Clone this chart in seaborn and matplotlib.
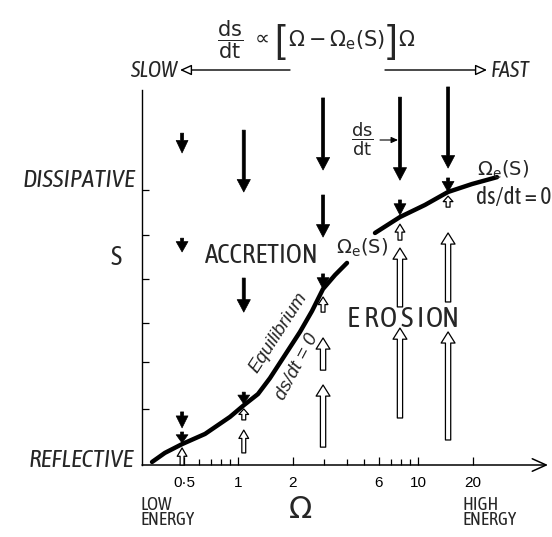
import matplotlib
matplotlib.use("Agg")
import matplotlib.pyplot as plt
from matplotlib import font_manager
from matplotlib.ticker import NullFormatter
import pandas as pd
import seaborn as sns

# ---------------- data ----------------
# equilibrium curve Omega_e(S), drawn in two branches
low_omega = [0.331, 0.390, 0.486, 0.652, 0.897, 1.073, 1.283, 1.496, 1.813, 2.196, 2.561, 2.947, 3.437, 4.007]
low_s = [0.011, 0.044, 0.076, 0.113, 0.175, 0.218, 0.258, 0.316, 0.400, 0.484, 0.560, 0.640, 0.691, 0.735]
high_omega = [5.733, 7.892, 10.87, 14.58, 19.83, 27.30]
high_s = [0.844, 0.902, 0.946, 0.993, 1.022, 1.047]

# columns of ds/dt arrows (Omega values)
col_omega = [0.486, 1.07, 2.95, 7.89, 14.6]
# accretion arrows (pointing down): column index, start S, end S
down_col = [0, 0, 0, 0, 1, 1, 1, 2, 2, 2, 3, 3, 4, 4]
down_start = [1.207, 0.825, 0.193, 0.120, 1.218, 0.680, 0.265, 1.335, 0.982, 0.695, 1.338, 0.964, 1.375, 1.044]
down_end = [1.135, 0.775, 0.135, 0.080, 0.993, 0.556, 0.222, 1.073, 0.829, 0.640, 1.036, 0.909, 1.080, 0.993]
# erosion arrows (pointing up, hollow)
up_col = [0, 1, 1, 2, 2, 2, 3, 3, 3, 4, 4, 4]
up_start = [0.000, 0.044, 0.164, 0.065, 0.345, 0.556, 0.171, 0.575, 0.818, 0.091, 0.593, 0.938]
up_end = [0.062, 0.127, 0.204, 0.291, 0.462, 0.611, 0.498, 0.789, 0.876, 0.484, 0.844, 0.978]

x_major = [0.5, 1, 2, 6, 10, 20]
x_major_labels = ["0·5", "1", "2", "6", "10", "20"]
x_minor = [0.6, 0.7, 0.8, 0.9, 3, 4, 5, 7, 8, 9]
y_ticks = [0.204, 0.375, 0.516, 0.676, 0.836, 1.0]

# ---------------- style ----------------
sns.set_style("white")
plt.rcParams["font.family"] = ["DejaVu Sans"]
plt.rcParams["mathtext.fontset"] = "dejavusans"

_fonts = font_manager.fontManager.ttflist
_names = {f.name for f in _fonts}
NARROW = dict(family=["Liberation Sans", "DejaVu Sans"])
SZ = 0.75
if "Liberation Sans Narrow" in _names:
    NARROW = dict(family=["Liberation Sans Narrow", "DejaVu Sans"])
    SZ = 0.88
else:
    _cond = [f for f in _fonts if "Condensed" in f.name and f.style == "normal"]
    _cond_stretch = [f for f in _fonts if f.stretch in ("condensed", "semi-condensed") and f.style == "normal"]
    if _cond:
        NARROW = dict(family=[_cond[0].name, "DejaVu Sans"])
        SZ = 1.0
    elif _cond_stretch:
        NARROW = dict(family=[_cond_stretch[0].name, "DejaVu Sans"], stretch="condensed")
        SZ = 1.0
REG = dict(family=["Liberation Sans", "DejaVu Sans"])

W, H = 552, 537
fig = plt.figure(figsize=(W / 100, H / 100), dpi=100)
ax = fig.add_axes([142 / W, 1 - 465 / H, 406 / W, 375 / H])


def fp(px, py):
    return (px / W, 1 - py / H)


curve = pd.concat(
    [
        pd.DataFrame({"omega": low_omega, "S": low_s, "branch": "lower"}),
        pd.DataFrame({"omega": high_omega, "S": high_s, "branch": "upper"}),
    ],
    ignore_index=True,
)
sns.lineplot(data=curve, x="omega", y="S", units="branch", estimator=None, sort=False,
             color="black", lw=3.2, ax=ax, legend=False,
             solid_capstyle="round", solid_joinstyle="round")

ax.set_xscale("log")
ax.set_xlim(0.2911, 52.41)
ax.set_ylim(0, 1.364)
ax.set_xlabel("")
ax.set_ylabel("")

for sp in ["top", "right", "bottom"]:
    ax.spines[sp].set_visible(False)
ax.spines["left"].set_color("black")
ax.spines["left"].set_linewidth(1.0)

ax.set_xticks(x_major)
ax.set_xticklabels(x_major_labels)
ax.set_xticks(x_minor, minor=True)
ax.xaxis.set_minor_formatter(NullFormatter())
ax.tick_params(axis="x", which="major", direction="in", length=6, width=0.9, pad=8,
               labelsize=11, bottom=True, color="black", labelcolor="black")
ax.tick_params(axis="x", which="minor", direction="in", length=4, width=0.9, bottom=True, color="black")
for lab in ax.get_xticklabels():
    lab.set_fontproperties(font_manager.FontProperties(size=11, **REG))
ax.set_yticks(y_ticks)
ax.set_yticklabels([])
ax.tick_params(axis="y", which="both", direction="in", length=5, width=0.9, left=True, color="black")
ax.set_yticks([], minor=True)

# x axis with arrow head
ax.annotate("", xy=(1, 0), xytext=(0, 0), xycoords="axes fraction", textcoords="axes fraction",
            arrowprops=dict(arrowstyle="->,head_length=10,head_width=4.5", mutation_scale=1,
                            lw=1.1, color="black", shrinkA=0, shrinkB=0),
            annotation_clip=False)

fig.canvas.draw()
renderer = fig.canvas.get_renderer()


def seg_len_pt(x, s0, s1):
    p0 = ax.transData.transform((x, s0))
    p1 = ax.transData.transform((x, s1))
    return abs(p1[1] - p0[1]) * 72 / fig.dpi


for c, s0, s1 in zip(down_col, down_start, down_end):
    x = col_omega[c]
    L = seg_len_pt(x, s0, s1)
    hl = min(9.0, 0.75 * L)
    hw = 9.5 if L > 20 else 8.5
    ax.annotate("", xy=(x, s1), xytext=(x, s0), xycoords="data", textcoords="data",
                arrowprops=dict(arrowstyle=f"simple,head_length={hl},head_width={hw},tail_width=2.2",
                                mutation_scale=1, fc="black", ec="black", lw=0.5,
                                shrinkA=0, shrinkB=0),
                annotation_clip=False, zorder=4)

for c, s0, s1 in zip(up_col, up_start, up_end):
    x = col_omega[c]
    L = seg_len_pt(x, s0, s1)
    if L > 20:
        hl, hw, tw = 8.0, 10.0, 3.8
    else:
        hl, hw, tw = min(6.0, 0.5 * L), 7.0, 2.8
    ax.annotate("", xy=(x, s1), xytext=(x, s0), xycoords="data", textcoords="data",
                arrowprops=dict(arrowstyle=f"simple,head_length={hl},head_width={hw},tail_width={tw}",
                                mutation_scale=1, fc="white", ec="black", lw=0.9,
                                shrinkA=0, shrinkB=0),
                annotation_clip=False, zorder=4)

# ---------------- title: ds/dt ∝ [Ω − Ωe(S)] Ω, laid out piece by piece ----------------
title_pieces = [
    (r"$\dfrac{\mathrm{ds}}{\mathrm{dt}}\ \propto$", 15, {}, 0),
    ("[", 28, dict(REG, weight="light"), 6),
    (r"$\Omega - \Omega_{\mathrm{e}}(\mathrm{S})$", 15, {}, 0),
    ("]", 28, dict(REG, weight="light"), 6),
    (r"$\Omega$", 15, {}, 0),
]
gaps = [5, 3, 2, 1]
title_texts = []
for s, fs, kw, _ in title_pieces:
    t = fig.text(0, 0, s, fontsize=fs, ha="left", va="baseline", **kw)
    title_texts.append(t)
fig.canvas.draw()
widths = [t.get_window_extent(renderer).width for t in title_texts]
total = sum(widths) + sum(gaps)
x0 = 316 - total / 2
base = 46
for i, (t, (_, _, _, dy)) in enumerate(zip(title_texts, title_pieces)):
    t.set_position(fp(x0, base + dy))
    x0 += widths[i] + (gaps[i] if i < len(gaps) else 0)

# SLOW / FAST arrows
ax.annotate("", xy=(180, H - 70), xytext=(290, H - 70), xycoords="figure pixels", textcoords="figure pixels",
            arrowprops=dict(arrowstyle="-|>,head_length=7,head_width=3.2", mutation_scale=1, lw=1.0,
                            fc="white", ec="black", shrinkA=0, shrinkB=0), annotation_clip=False)
ax.annotate("", xy=(487, H - 70), xytext=(385, H - 70), xycoords="figure pixels", textcoords="figure pixels",
            arrowprops=dict(arrowstyle="-|>,head_length=7,head_width=3.2", mutation_scale=1, lw=1.0,
                            fc="white", ec="black", shrinkA=0, shrinkB=0), annotation_clip=False)
fig.text(*fp(177, 77), "SLOW", ha="right", va="baseline", fontsize=16 * SZ, style="italic", **NARROW)
fig.text(*fp(491, 77), "FAST", ha="left", va="baseline", fontsize=16 * SZ, style="italic", **NARROW)

fig.text(*fp(135, 187), "DISSIPATIVE", ha="right", va="baseline", fontsize=18 * SZ, style="italic", **NARROW)
fig.text(*fp(134, 467), "REFLECTIVE", ha="right", va="baseline", fontsize=18 * SZ, style="italic", **NARROW)
fig.text(*fp(116, 265), "S", ha="center", va="baseline", fontsize=19 * SZ, **NARROW)

fig.text(*fp(205, 263), "ACCRETION", ha="left", va="baseline", fontsize=19.5 * SZ, **NARROW)
for ch, cx in zip("EROSION", [353, 371, 388, 406, 420, 434, 450]):
    fig.text(*fp(cx, 327), ch, ha="center", va="baseline", fontsize=21 * SZ, **NARROW)

fig.text(*fp(362, 248), r"$\Omega_{\mathrm{e}}(\mathrm{S})$", ha="center", va="center", fontsize=14)
fig.text(*fp(503, 170), r"$\Omega_{\mathrm{e}}(\mathrm{S})$", ha="center", va="center", fontsize=14)
fig.text(*fp(514, 197), "ds/dt = 0", ha="center", va="center", fontsize=17 * SZ, **NARROW)

fig.text(*fp(362, 139), r"$\dfrac{\mathrm{ds}}{\mathrm{dt}}$", ha="center", va="center", fontsize=13)
ax.annotate("", xy=(398, H - 140), xytext=(380, H - 140), xycoords="figure pixels", textcoords="figure pixels",
            arrowprops=dict(arrowstyle="-|>,head_length=4,head_width=1.8", mutation_scale=1, lw=0.8,
                            fc="black", ec="black", shrinkA=0, shrinkB=0), annotation_clip=False)

fig.text(*fp(278, 333), "Equilibrium", ha="center", va="center", rotation=57, rotation_mode="anchor",
         fontsize=13.5, style="italic", **REG)
fig.text(*fp(297, 367), "ds/dt = 0", ha="center", va="center", rotation=62, rotation_mode="anchor",
         fontsize=13.5, style="italic", **REG)

fig.text(*fp(140, 496), "LOW\nENERGY", ha="left", va="top", fontsize=13.5 * SZ, linespacing=0.8, **NARROW)
fig.text(*fp(463, 496), "HIGH\nENERGY", ha="left", va="top", fontsize=13.5 * SZ, linespacing=0.8, **NARROW)
fig.text(*fp(301, 509), "Ω", ha="center", va="center", fontsize=22)

fig.savefig("out.png", dpi=100)
